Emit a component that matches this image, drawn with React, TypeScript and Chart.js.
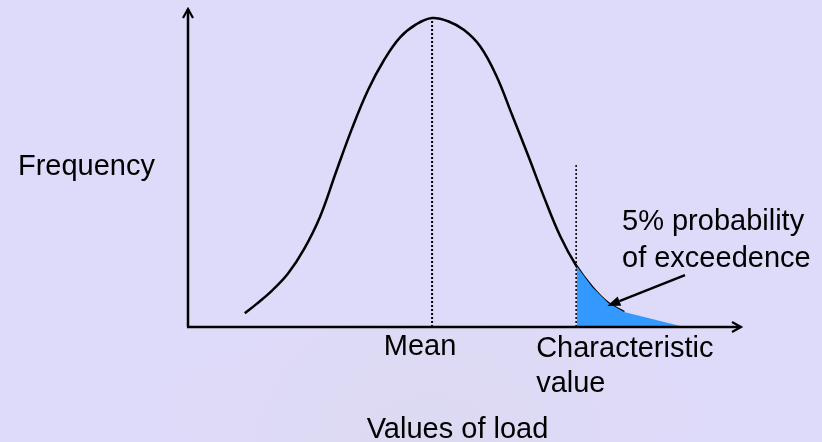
import React, { useEffect, useRef } from "react";
import { Chart, registerables } from "chart.js";

Chart.register(...registerables);

// Bell curve: load value (x) vs relative frequency (y, peak = 100)
const loadValues = [26.6, 28, 30, 32, 34, 36, 38, 40, 42, 44, 46, 48, 50, 52, 54, 56, 58, 60, 62, 64, 66, 68, 70, 72, 74];
const frequency = [4.43, 7.31, 11.8, 17.3, 25.2, 35.7, 50.16, 64.27, 76.7, 86.4, 93.72, 97.93, 100, 98.93, 96.08, 90.84, 81.46, 68.61, 55.47, 41.94, 29.45, 19.9, 12.94, 7.77, 4.85];

// Shaded 5% tail
const tailLoad = [68.1, 70, 72, 74, 81.5];
const tailFrequency = [19.6, 12.94, 7.77, 4.85, 0];

// Reference lines
const meanValue = 50;
const meanHeight = 100;
const characteristicValue = 68;
const characteristicHeight = 52.4;

// Axis ranges
const xRange = [19.5, 88.6];
const yRange = [0, 102.9];

// Pointer from label to tail (data units)
const pointerFrom = [81.6, 16.8];
const pointerTo = [71.9, 6.8];

// Texts
const yTitle = "Frequency";
const xTitle = "Values of load";
const meanLabel = "Mean";
const characteristicLabel = ["Characteristic", "value"];
const tailLabel = ["5% probability", "of exceedence"];

const FONT = '29px "Liberation Sans", Arial, sans-serif';
const BG = "#DEDAF9";
const BLUE = "#3399FF";

const decorPlugin = {
  id: "decor",
  beforeDraw(chart: any) {
    const { ctx, width, height } = chart;
    ctx.save();
    ctx.fillStyle = BG;
    ctx.fillRect(0, 0, width, height);
    // faint cloud at bottom
    const g = ctx.createRadialGradient(430, 470, 20, 430, 470, 300);
    g.addColorStop(0, "rgba(218,215,232,0.45)");
    g.addColorStop(0.6, "rgba(222,220,240,0.25)");
    g.addColorStop(1, "rgba(222,218,249,0)");
    ctx.fillStyle = g;
    ctx.beginPath();
    ctx.ellipse(430, 470, 320, 150, 0, 0, Math.PI * 2);
    ctx.fill();
    ctx.restore();
  },
  afterDraw(chart: any) {
    const { ctx, chartArea } = chart;
    const xs = chart.scales.x;
    const ys = chart.scales.y;
    const L = chartArea.left;
    const B = chartArea.bottom;
    const R = chartArea.right;
    const T = chartArea.top;
    ctx.save();
    ctx.strokeStyle = "#000";
    ctx.fillStyle = "#000";
    ctx.lineWidth = 2.5;
    ctx.lineCap = "butt";
    // axes
    ctx.beginPath();
    ctx.moveTo(L, B);
    ctx.lineTo(L, T);
    ctx.moveTo(L - 1, B);
    ctx.lineTo(R, B);
    ctx.stroke();
    // arrow heads (open)
    ctx.lineWidth = 2.2;
    ctx.beginPath();
    ctx.moveTo(L - 5, T + 9);
    ctx.lineTo(L, T);
    ctx.lineTo(L + 5, T + 9);
    ctx.moveTo(R - 9, B - 5);
    ctx.lineTo(R, B);
    ctx.lineTo(R - 9, B + 5);
    ctx.stroke();

    // pointer arrow
    const x1 = xs.getPixelForValue(pointerFrom[0]);
    const y1 = ys.getPixelForValue(pointerFrom[1]);
    const x2 = xs.getPixelForValue(pointerTo[0]);
    const y2 = ys.getPixelForValue(pointerTo[1]);
    const ang = Math.atan2(y2 - y1, x2 - x1);
    const hl = 13;
    const hw = 5;
    const bx = x2 - hl * Math.cos(ang);
    const by = y2 - hl * Math.sin(ang);
    ctx.lineWidth = 2.4;
    ctx.beginPath();
    ctx.moveTo(x1, y1);
    ctx.lineTo(bx, by);
    ctx.stroke();
    ctx.beginPath();
    ctx.moveTo(x2, y2);
    ctx.lineTo(bx + hw * Math.sin(ang), by - hw * Math.cos(ang));
    ctx.lineTo(bx - hw * Math.sin(ang), by + hw * Math.cos(ang));
    ctx.closePath();
    ctx.fill();

    // texts
    ctx.font = FONT;
    ctx.textBaseline = "alphabetic";
    ctx.textAlign = "right";
    ctx.fillText(yTitle, L - 33, 175);
    ctx.textAlign = "center";
    ctx.fillText(meanLabel, xs.getPixelForValue(meanValue) - 12, B + 28);
    ctx.fillText(xTitle, (L + R) / 2 - 7, B + 111);
    ctx.textAlign = "left";
    const cx = xs.getPixelForValue(characteristicValue) - 40;
    ctx.fillText(characteristicLabel[0], cx, B + 30);
    ctx.fillText(characteristicLabel[1], cx, B + 65);
    ctx.fillText(tailLabel[0], 622, 230);
    ctx.fillText(tailLabel[1], 622, 267);
    ctx.restore();
  },
};

export default function App() {
  const ref = useRef<HTMLCanvasElement | null>(null);
  useEffect(() => {
    if (!ref.current) return;
    const chart = new Chart(ref.current, {
      type: "scatter",
      data: {
        datasets: [
          {
            data: tailLoad.map((x, i) => ({ x, y: tailFrequency[i] })),
            showLine: true,
            fill: "origin",
            backgroundColor: BLUE,
            borderWidth: 0,
            borderColor: BLUE,
            pointRadius: 0,
            tension: 0,
          },
          {
            data: [
              { x: meanValue, y: 0 },
              { x: meanValue, y: meanHeight },
            ],
            showLine: true,
            borderColor: "#000",
            borderWidth: 2,
            borderDash: [2, 2],
            pointRadius: 0,
          },
          {
            data: [
              { x: characteristicValue, y: 0 },
              { x: characteristicValue, y: characteristicHeight },
            ],
            showLine: true,
            borderColor: "#000",
            borderWidth: 1.5,
            borderDash: [2, 2],
            pointRadius: 0,
          },
          {
            data: loadValues.map((x, i) => ({ x, y: frequency[i] })),
            showLine: true,
            borderColor: "#000",
            borderWidth: 2.5,
            pointRadius: 0,
            tension: 0.4,
          },
        ],
      },
      options: {
        responsive: false,
        animation: false,
        devicePixelRatio: 1,
        layout: { padding: { left: 188, right: 81, top: 9, bottom: 115 } },
        plugins: { legend: { display: false }, tooltip: { enabled: false } },
        elements: { line: { capBezierPoints: false } },
        scales: {
          x: { type: "linear", display: false, min: xRange[0], max: xRange[1] },
          y: { type: "linear", display: false, min: yRange[0], max: yRange[1] },
        },
      } as any,
      plugins: [decorPlugin],
    });
    return () => chart.destroy();
  }, []);
  return (
    <div style={{ position: "absolute", left: 0, top: 0, width: 822, height: 442, overflow: "hidden" }}>
      <canvas ref={ref} width={822} height={442} style={{ display: "block" }} />
    </div>
  );
}
